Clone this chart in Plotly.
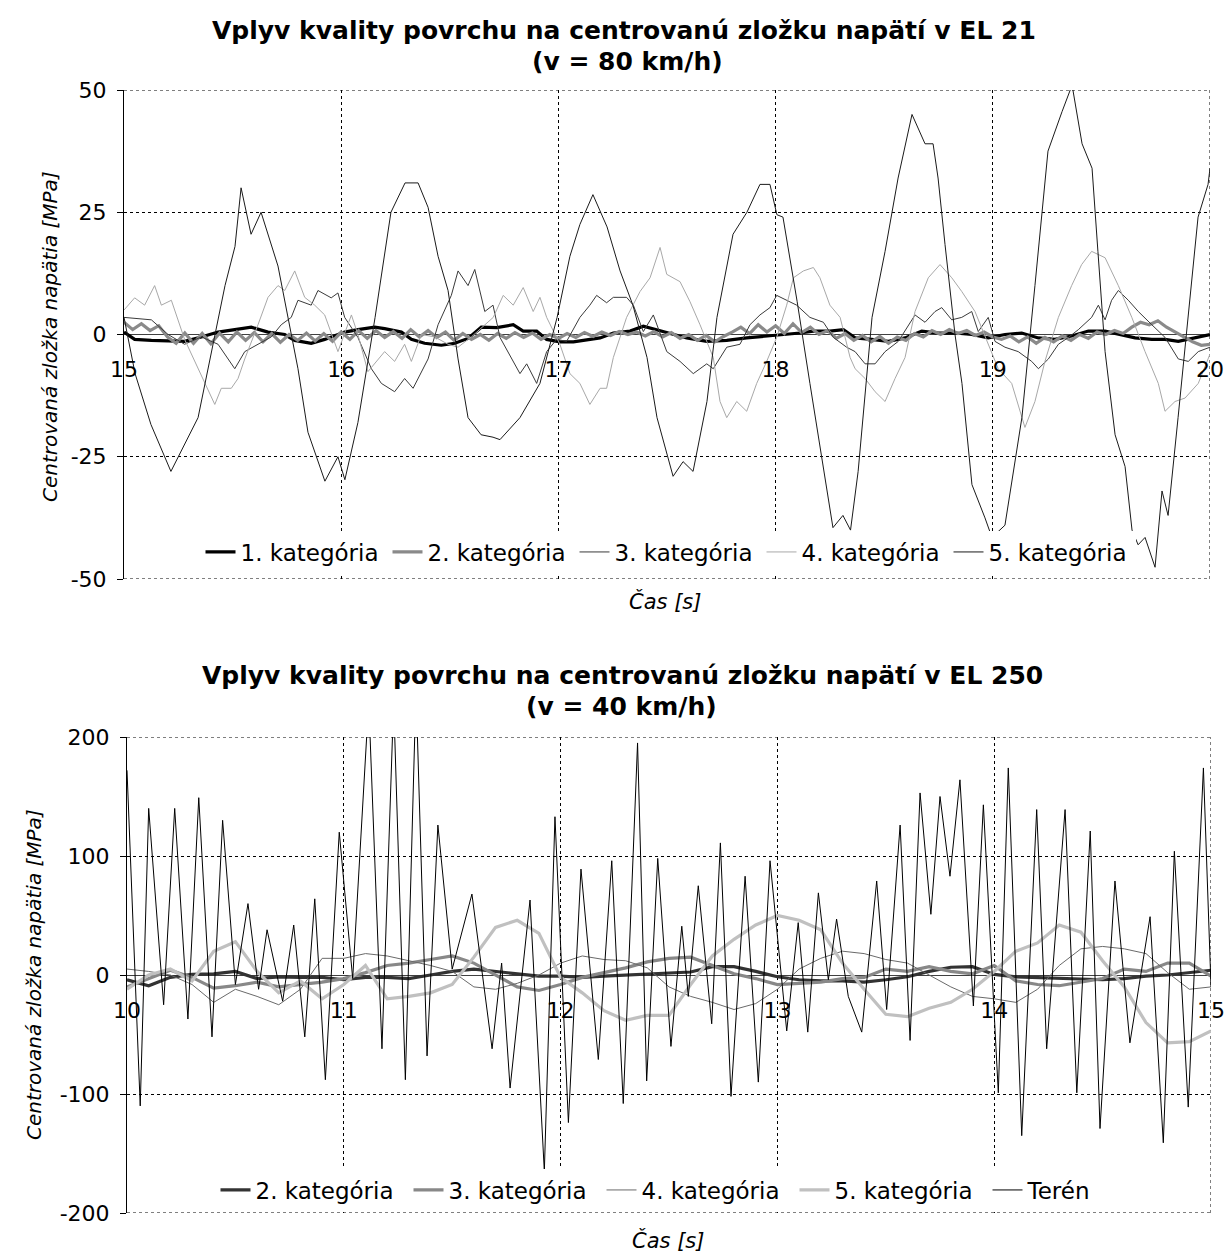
import plotly.graph_objects as go

W, H = 1228, 1252
FONT = "DejaVu Sans"

# ---------------- top chart data (EL 21, v = 80 km/h) ----------------
T1 = [15.0, 15.049, 15.126, 15.279, 15.356, 15.433, 15.51, 15.586, 15.663, 15.74,
      15.786, 15.862, 15.924, 16.016, 16.077, 16.154, 16.2, 16.277, 16.323, 16.384,
      16.461, 16.523, 16.584, 16.645, 16.716, 16.792, 16.838, 16.9, 16.946, 17.007,
      17.069, 17.13, 17.192, 17.253, 17.33, 17.391, 17.453, 17.514, 17.591, 17.683,
      17.775, 17.867, 17.959, 18.051, 18.112, 18.174, 18.25, 18.312, 18.366, 18.442,
      18.519, 18.596, 18.673, 18.749, 18.826, 18.903, 18.979, 19.056, 19.133, 19.21,
      19.286, 19.363, 19.44, 19.517, 19.593, 19.655, 19.732, 19.793, 19.854, 19.931, 20.0]
V1 = [0.5, -1, -1.2, -1.4, -0.5, 0.5, 1, 1.5, 0.5, 0,
      -1.2, -1.8, -1, 0.5, 1, 1.5, 1.2, 0.5, -1, -1.8,
      -2.2, -1.8, -0.8, 1.5, 1.4, 2, 0.7, 0.7, -1, -1.5,
      -1.5, -1.1, -0.7, 0.3, 0.7, 1.7, 1, 0.3, -0.7, -1.4,
      -1.2, -0.7, -0.3, 0, 0.3, 0.7, 0.7, 1, -0.7, -1,
      -1.4, -0.7, 0.7, 0.3, 0.3, 0, -0.7, 0, 0.3, -0.7,
      -1, -0.3, 0.7, 0.7, 0, -0.7, -1, -1, -1.4, -0.7, 0]

# 2. kategória sampled every 0.04 s from 15.00
V2 = [2.5, 1.0, 2.2, 0.8, 1.8, -0.5, -1.8, 0.3, -1.8, 0.2,
      -1.9, 0.3, -1.5, 0.5, -1.2, 0.4, -1.5, 0.2, -1.6, 0.0,
      -1.2, 0.3, -1.3, 0.2, -1.4, 0.5, -1.0, 0.8, -0.8, 0.8,
      -0.6, 0.6, -0.8, 1.0, -0.5, 0.8, -0.6, 0.5, -1.2, 0.2,
      -1.0, 0.0, -1.2, 0.2, -0.8, 0.4, -0.6, 0.3, -1.0, 0.0,
      -0.8, 0.2, -0.6, 0.4, -0.4, 0.5, -0.2, 0.6, 0.0, 0.5,
      -0.3, 0.6, -0.5, 0.4, -0.8, 0.0, -1.2, -0.2, -1.5, -0.4,
      0.5, 1.5, 0.2, 2.0, 0.5, 1.8, 0.2, 2.2, 0.4, 1.5,
      0.0, 0.8, -0.8, 0.2, -1.2, -0.2, -1.5, -0.4, -1.8, -0.5,
      -1.2, 0.2, -0.5, 0.8, 0.0, 1.0, 0.2, 0.8, -0.2, 0.5,
      -0.5, -1.0, -0.3, -1.5, -0.5, -1.8, -0.6, -1.5, -0.3, -1.2,
      0.0, -0.8, 0.5, 0.0, 0.8, 0.2, 1.5, 2.5, 2.0, 2.8,
      1.5, 0.5, -0.5, -1.5, -2.2, -2.0]
T2 = [round(15 + 0.04 * i, 2) for i in range(len(V2))]

T3 = [15.0, 15.126, 15.203, 15.279, 15.356, 15.433, 15.51, 15.556, 15.617, 15.678,
      15.724, 15.77, 15.801, 15.862, 15.893, 15.954, 15.985, 16.016, 16.077, 16.139,
      16.185, 16.246, 16.292, 16.331, 16.4, 16.446, 16.507, 16.538, 16.584, 16.615,
      16.661, 16.699, 16.731, 16.792, 16.823, 16.854, 16.9, 16.946, 16.992, 17.038,
      17.099, 17.145, 17.176, 17.222, 17.253, 17.314, 17.345, 17.391, 17.437, 17.499,
      17.56, 17.621, 17.683, 17.713, 17.775, 17.836, 17.882, 17.928, 17.974, 18.005,
      18.051, 18.097, 18.158, 18.22, 18.266, 18.327, 18.366, 18.412, 18.458, 18.504,
      18.565, 18.611, 18.642, 18.688, 18.734, 18.765, 18.811, 18.857, 18.903, 18.933,
      18.979, 19.01, 19.056, 19.117, 19.179, 19.21, 19.256, 19.302, 19.348, 19.394,
      19.455, 19.486, 19.517, 19.547, 19.578, 19.624, 19.67, 19.732, 19.793, 19.854,
      19.9, 19.946, 20.0]
V3 = [3.5, 3, 0, -2, -0.5, -2, -7, -3.5, -2, -0.5,
      2, 3.5, 7, 6, 9, 7.5, 8.5, 3.5, -0.6, -7,
      -10, -11.7, -9, -11, -5, 2, 8, 13, 10, 13.3,
      4.7, 6, -0.6, -5.5, -8, -6, -10, -3.5, -1, -1.4,
      3.5, 6, 8, 6.5, 7.6, 7.6, 6, 0.6, 4, -3.5,
      -5.5, -8, -6, -7, -2.6, -2, 2, 4, 5.5, 8,
      7, 6, 3.5, 2.5, -0.6, -2.6, -3.5, -6, -6, -3.5,
      -1.4, 2, 4, 2.5, 4.7, 5.5, 3, 3.5, 4.7, 0.6,
      3.5, -1.4, -2.6, -3.5, -5.5, -7, -5, -2, -0.6, 1,
      3.5, 6, 3, 7, 9, 7, 4.7, 2, -0.6, -5,
      -5.5, -3.5, -2.6]

T4 = [15.0, 15.049, 15.095, 15.141, 15.172, 15.218, 15.279, 15.325, 15.372, 15.418,
      15.448, 15.494, 15.525, 15.556, 15.617, 15.663, 15.709, 15.74, 15.786, 15.832,
      15.878, 15.924, 15.985, 16.047, 16.077, 16.123, 16.2, 16.246, 16.292, 16.323,
      16.369, 16.431, 16.492, 16.538, 16.599, 16.661, 16.7, 16.746, 16.792, 16.838,
      16.884, 16.915, 16.946, 17.007, 17.053, 17.099, 17.145, 17.192, 17.222, 17.253,
      17.314, 17.376, 17.422, 17.468, 17.499, 17.56, 17.606, 17.652, 17.713, 17.744,
      17.775, 17.821, 17.867, 17.913, 17.959, 18.005, 18.051, 18.082, 18.128, 18.174,
      18.204, 18.25, 18.297, 18.343, 18.366, 18.412, 18.458, 18.504, 18.55, 18.596,
      18.642, 18.703, 18.757, 18.811, 18.857, 18.918, 18.979, 19.025, 19.087, 19.148,
      19.194, 19.24, 19.302, 19.363, 19.409, 19.455, 19.517, 19.578, 19.64, 19.701,
      19.762, 19.793, 19.839, 19.885, 19.946, 19.992, 20.0]
V4 = [5, 7.5, 6, 10, 6, 7, -1, -5.5, -10, -14.3,
      -11, -11, -9, -5, 2, 7.6, 10, 9, 13, 7.6,
      6, 4, -3.5, 4, 0, -7.6, -3.5, -5.5, -2, -5.5,
      0, -0.5, -2, -2.6, -0.5, 2, 3.5, 8, 6, 9.6,
      4.7, 7.6, 3.5, -2, -8, -10, -14.3, -11, -11, -4.7,
      3.5, 8.8, 11.6, 17.8, 12.3, 10.8, 6.7, 2, -4.7, -13.7,
      -17, -13.7, -15.7, -10, -5.5, -0.6, 6, 11.6, 13, 13.7,
      11.6, 6, 3.5, -4.7, -7, -9, -11.7, -13.7, -9, -4.7,
      4.7, 11.6, 14.3, 11.6, 8.8, 4.7, -2, -7, -10, -19,
      -13.7, -5.5, 3.5, 10, 14.3, 17, 15.7, 10, 3.5, -3.5,
      -10, -15.7, -13.7, -13, -10, -4.7, -4]

T5 = [15.0, 15.051, 15.124, 15.216, 15.341, 15.419, 15.465, 15.511, 15.539, 15.585,
      15.631, 15.709, 15.755, 15.801, 15.847, 15.925, 15.985, 16.017, 16.077, 16.156,
      16.229, 16.294, 16.354, 16.4, 16.446, 16.492, 16.538, 16.584, 16.644, 16.699,
      16.731, 16.823, 16.915, 16.994, 17.053, 17.099, 17.159, 17.224, 17.284, 17.343,
      17.408, 17.454, 17.528, 17.574, 17.62, 17.684, 17.73, 17.804, 17.868, 17.928,
      17.974, 18.006, 18.034, 18.099, 18.158, 18.218, 18.264, 18.31, 18.345, 18.38,
      18.444, 18.504, 18.564, 18.628, 18.688, 18.725, 18.748, 18.78, 18.826, 18.858,
      18.904, 18.964, 18.996, 19.056, 19.134, 19.194, 19.254, 19.319, 19.365, 19.411,
      19.457, 19.484, 19.517, 19.563, 19.609, 19.641, 19.669, 19.701, 19.747, 19.779,
      19.807, 19.853, 19.899, 19.945, 19.991, 20.0]
V5 = [3.5, -8, -18.4, -28, -17, 0, 10, 18, 30, 20.5,
      25, 14, 3.5, -7, -20, -30, -25, -29.7, -18, 3.5,
      25, 31, 31, 26, 16, 9, -5, -17, -20.5, -21,
      -21.5, -17, -10, 3.5, 16, 22.5, 28.6, 22, 13, 6,
      -4.7, -17, -29, -26, -28, -13.7, 3.5, 20.5, 25, 30.7,
      30.7, 24.5, 24, 6.8, -10, -27, -39.5, -37, -40, -28,
      3.5, 17, 32, 45, 39, 39, 32, 18.4, 0, -10,
      -30.7, -37.5, -41.5, -39, -17, 10, 37.5, 45.6, 51, 39,
      34, 17, -3.5, -20.5, -27, -40, -43, -41.5, -47.6, -32,
      -37, -17, 3.5, 24, 30.7, 34]

TOP_TICKS = [-50, -25, 0, 25, 50]
TOP_TICKTEXT = ["-50", "-25", "0", "25", "50"]

# ---------------- bottom chart data (EL 250, v = 40 km/h) ----------------
B_T = [round(10 + 0.1 * i, 1) for i in range(51)]
B2 = [-4, -9, -2, 0.5, 1, 3, -3, -1.5, -2, -2,
      -4, -2, -2, -3, 0, 3, 5, 3, 0.5, -1,
      -1, -2, -1, 0, 0.5, 1.5, 2.5, 7, 7, 3,
      -1.5, -4, -5, -5, -6, -4, -1.5, 3, 6.5, 7,
      0.5, -1.5, -2, -3, -3, -4, -3, -1, 0, 2, 4]
B3 = [-10, -3, 4, -2, -11, -9, -6, -10, -8, -6,
      -3, 2, 8, 10, 13, 16, 10, 0, -10, -13,
      -8, -2, 2, 6, 11, 14, 15, 8, 1, -3,
      -8, -7, -6, -3, -2, 5, 3, 7, 3, 1,
      8, -5, -8, -9, -6, -3, 5, 3, 10, 10, -1]
B4 = [5, 3, 0, -8, -23, -12, -18, -25, -12, 14,
      14, 18, 16, 12, 8, 3, -10, -12, -7, 0,
      10, 16, 13, 12, 6, -10, -18, -23, -29, -24,
      -12, 5, 14, 20, 18, 13, 10, 0, -10, -18,
      -20, -23, -12, 8, 22, 24, 22, 18, 2, -12, -10]
B5 = [-12, 0, 5, -5, 20, 28, 3, -15, -5, -20,
      -8, 8, -20, -18, -15, -8, 15, 40, 46, 35,
      -2, -15, -30, -38, -34, -34, -8, 16, 30, 42,
      50, 46, 38, 10, -12, -33, -35, -28, -23, -12,
      3, 20, 27, 42, 36, 12, -10, -40, -57, -56, -47]

TT = [10.0, 10.061, 10.1, 10.169, 10.22, 10.281, 10.331, 10.392, 10.441, 10.5,
      10.558, 10.607, 10.646, 10.718, 10.769, 10.82, 10.866, 10.915, 10.979, 11.041,
      11.115, 11.176, 11.23, 11.284, 11.333, 11.384, 11.434, 11.5, 11.591, 11.684,
      11.728, 11.767, 11.859, 11.925, 11.974, 12.036, 12.094, 12.174, 12.236, 12.289,
      12.355, 12.397, 12.448, 12.509, 12.559, 12.589, 12.635, 12.697, 12.737, 12.786,
      12.851, 12.912, 12.966, 13.043, 13.096, 13.14, 13.189, 13.235, 13.273, 13.327,
      13.389, 13.458, 13.504, 13.566, 13.612, 13.658, 13.708, 13.75, 13.796, 13.842,
      13.904, 13.95, 14.019, 14.065, 14.127, 14.196, 14.242, 14.327, 14.381, 14.443,
      14.488, 14.557, 14.626, 14.719, 14.78, 14.831, 14.895, 14.965, 15.0]
TV = [172, -110, 140, -25, 140, -37, 149, -52, 130, -8,
      60, -12, 38, -22, 42, -52, 64, -88, 120, -3,
      230, -62, 230, -88, 240, -68, 126, 5, 68, -62,
      10, -95, 63, -165, 133, -124, 89, -71, 96, -108,
      195, -89, 98, -60, 41, -18, 75, -41, 111, -102,
      83, -90, 96, -47, 44, -48, 69, -4, 47, -18,
      -48, 79, -29, 126, -55, 153, 51, 150, 83, 164,
      -26, 143, -99, 174, -135, 139, -62, 139, -99, 121,
      -129, 79, -57, 49, -141, 104, -111, 174, -10]

BOT_TICKS = [-200, -100, 0, 100, 200]
BOT_TICKTEXT = ["-200", "-100", "0", "100", "200"]


def px(x):
    return x / W


def py(y):
    return 1 - y / H


fig = go.Figure()

top = [
    ("1. kategória", T1, V1, "#000000", 3.2),
    ("2. kategória", T2, V2, "#8a8a8a", 3.2),
    ("3. kategória", T3, V3, "#3a3a3a", 1),
    ("4. kategória", T4, V4, "#a8a8a8", 1),
    ("5. kategória", T5, V5, "#1a1a1a", 1),
]
for name, t, v, c, w in top:
    fig.add_trace(go.Scatter(x=t, y=v, mode="lines", name=name,
                             line=dict(color=c, width=w),
                             xaxis="x", yaxis="y", legend="legend"))

bottom = [
    ("2. kategória", B_T, B2, "#333333", 3.2),
    ("3. kategória", B_T, B3, "#888888", 3.2),
    ("4. kategória", B_T, B4, "#6a6a6a", 1),
    ("5. kategória", B_T, B5, "#c0c0c0", 3.2),
    ("Terén", TT, TV, "#000000", 1),
]
for name, t, v, c, w in bottom:
    fig.add_trace(go.Scatter(x=t, y=v, mode="lines", name=name,
                             line=dict(color=c, width=w),
                             xaxis="x2", yaxis="y2", legend="legend2"))

tickfont = dict(family=FONT, size=22, color="#000")
grid = dict(showgrid=True, gridcolor="#000", gridwidth=1, griddash="3px,3px")

xcommon = dict(dtick=1, anchor="free", showline=False, ticks="outside", ticklen=0,
               ticklabelstandoff=15, zeroline=False, tickfont=tickfont,
               automargin=False, **grid)
ycommon = dict(showline=True, linecolor="#000", linewidth=1, ticks="outside",
               ticklen=6, tickcolor="#000", ticklabelstandoff=6,
               zeroline=True, zerolinecolor="#404040", zerolinewidth=1,
               tickfont=tickfont, automargin=False, tickmode="array", **grid)

fig.update_layout(
    width=W, height=H,
    margin=dict(l=0, r=0, t=0, b=0, autoexpand=False),
    paper_bgcolor="white", plot_bgcolor="white",
    font=dict(family=FONT, color="#000"),
    xaxis=dict(domain=[px(124), px(1210)], range=[15, 20], tick0=15,
               position=py(335), **xcommon),
    yaxis=dict(domain=[py(579), py(90)], range=[-50, 50],
               tickvals=TOP_TICKS, ticktext=TOP_TICKTEXT,
               anchor="x", **ycommon),
    xaxis2=dict(domain=[px(127), px(1211)], range=[10, 15], tick0=10,
                position=py(975.7), **xcommon),
    yaxis2=dict(domain=[py(1213), py(737)], range=[-200, 200],
                tickvals=BOT_TICKS, ticktext=BOT_TICKTEXT,
                anchor="x2", **ycommon),
    legend=dict(orientation="h", x=px(668), xanchor="center", y=py(552),
                yanchor="middle", bgcolor="white", font=dict(family=FONT, size=23),
                entrywidth=142, itemwidth=30, traceorder="normal"),
    legend2=dict(orientation="h", x=px(698), xanchor="center", y=py(1190),
                 yanchor="middle", bgcolor="white", font=dict(family=FONT, size=23),
                 entrywidth=148, itemwidth=30, traceorder="normal"),
    showlegend=True,
)

# dashed frame on the gridline positions at the edges of each plot area
dash = dict(color="#000", width=1, dash="3px,3px")
shapes = []
for xr, yr, x0, x1, y0, y1 in [("x", "y", 15, 20, -50, 50), ("x2", "y2", 10, 15, -200, 200)]:
    shapes.append(dict(type="line", xref=xr, yref=yr, x0=x0, x1=x1, y0=y1, y1=y1, line=dash, layer="below"))
    shapes.append(dict(type="line", xref=xr, yref=yr, x0=x0, x1=x1, y0=y0, y1=y0, line=dash, layer="below"))
    shapes.append(dict(type="line", xref=xr, yref=yr, x0=x1, x1=x1, y0=y0, y1=y1, line=dash, layer="below"))
fig.update_layout(shapes=shapes)

ann = []
title_font = dict(family=FONT, size=25, color="#000")
ann.append(dict(text="<b>Vplyv kvality povrchu na centrovanú zložku napätí v EL 21</b>",
                x=px(624), y=py(30), font=title_font))
ann.append(dict(text="<b>(v = 80 km/h)</b>", x=px(627), y=py(61), font=title_font))
ann.append(dict(text="<b>Vplyv kvality povrchu na centrovanú zložku napätí v EL 250</b>",
                x=px(622), y=py(675), font=title_font))
ann.append(dict(text="<b>(v = 40 km/h)</b>", x=px(621), y=py(706), font=title_font))
lab_font = dict(family=FONT, size=21, color="#000")
ann.append(dict(text="<i>Čas [s]</i>", x=px(665), y=py(601), font=lab_font))
ann.append(dict(text="<i>Čas [s]</i>", x=px(668), y=py(1240), font=lab_font))
yl_font = dict(family=FONT, size=20, color="#000")
ann.append(dict(text="<i>Centrovaná zložka napätia [MPa]</i>", x=px(50), y=py(337),
                textangle=-90, font=yl_font))
ann.append(dict(text="<i>Centrovaná zložka napätia [MPa]</i>", x=px(34), y=py(975),
                textangle=-90, font=yl_font))
for a in ann:
    a.update(xref="paper", yref="paper", xanchor="center", yanchor="middle",
             showarrow=False)
fig.update_layout(annotations=ann)

fig.write_html("out.html")
